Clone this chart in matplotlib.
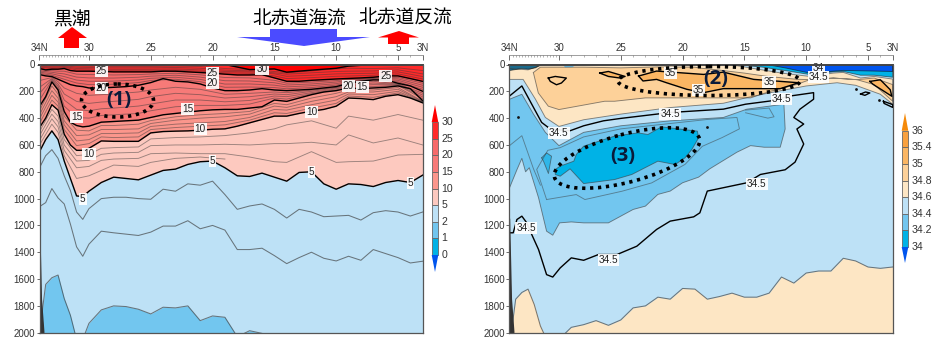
import numpy as np
import matplotlib
matplotlib.use("Agg")
import matplotlib.pyplot as plt
from matplotlib.patches import Polygon, Ellipse, Rectangle

plt.rcParams['font.family'] = ['Liberation Sans', 'DejaVu Sans']
W, H = 933, 337

LAT = [34,33.5,33,32.5,32,31.5,31,30.5,30,29,28,27,26,25,24,23,22,21,20,19,18,17,16,15,14,13,12,11,10,9,8,7,6,5,4,3]
T25 = [30,40,35,35,30,45,50,50,50,52,55,55,55,55,50,50,55,60,65,72,78,78,76,100,125,125,118,113,108,104,100,95,85,85,105,126]
T20 = [75,85,90,110,130,150,160,165,175,175,170,165,155,135,105,125,130,145,175,195,195,190,180,190,195,190,185,175,165,140,125,115,115,140,160,200]
T15 = [313,240,130,190,350,430,455,465,460,430,425,420,415,395,375,365,355,345,338,335,335,325,315,265,275,250,225,205,195,175,180,175,170,160,180,270]
T10 = [470,400,300,340,520,600,640,640,625,570,573,573,573,510,500,497,495,490,483,480,460,435,410,385,385,365,348,335,311,250,254,262,237,225,250,286]
T5  = [650,560,495,560,720,850,980,985,945,880,840,850,860,825,790,780,745,725,720,770,830,835,810,840,870,805,800,890,930,890,895,910,880,865,880,825]
T4  = [770,680,635,700,830,940,1100,1155,1075,1000,990,990,1000,1005,930,945,890,900,870,970,1080,1055,1040,1080,1145,1080,1100,1135,1130,1125,1160,1105,1090,1100,1130,1100]
T3  = [1060,1030,925,995,1040,1190,1360,1430,1340,1243,1255,1265,1275,1250,1205,1205,1165,1225,1200,1235,1380,1380,1370,1425,1485,1440,1400,1445,1465,1430,1460,1380,1410,1440,1480,1467]
T2  = [2000,1640,1590,1570,1745,1870,2050,2050,1930,1830,1800,1805,1825,1860,1810,1815,1800,1910,1875,1885,2030,1985,2005,2030,2030,2030,2030,2030,2030,2030,2030,2030,2030,2030,2030,2030]

TH_LAT = [34,33,32.5,32,31,30,29,28,26,25,23,21,19,17,15,14,12,10,9,7,5,3]
T30 = [0,0,0,0,0,0,0,0,0,0,0,0,0,38,33,57,42,28,12,0,0,0]
T29 = [6,6,4,4,10,12,14,14,14,14,11,15,30,38,52,62,48,32,28,30,25,45]
T28 = [12,12,10,8,20,22,24,25,25,25,22,28,42,47,62,72,62,52,50,48,40,70]
T27 = [18,20,18,15,30,32,34,36,36,36,33,40,52,55,70,88,80,70,68,65,55,90]
T26 = [24,28,26,22,40,42,44,46,46,46,42,50,62,65,85,105,98,88,86,80,70,108]
T24 = [39,46,50,50,72,75,76,78,75,71,65,77,97,100,118,139,131,120,111,99,96,140]
T23 = [48,58,65,70,94,100,101,101,95,87,80,94,121,123,136,153,145,131,118,103,107,155]
T22 = [57,69,80,90,116,125,125,124,115,103,95,111,146,145,154,167,158,143,126,107,118,170]
T21 = [66,80,95,110,138,150,150,147,135,119,110,128,170,168,172,181,172,154,133,111,129,185]
T19 = [120,97,128,175,215,230,225,220,205,190,170,185,222,215,205,210,192,170,146,125,144,214]
T18 = [170,105,145,220,275,290,280,275,260,240,215,225,250,240,220,225,200,175,152,138,148,228]
T17 = [215,112,160,265,335,345,330,325,310,295,265,265,278,268,235,240,210,182,160,150,152,242]
T16 = [265,120,175,310,395,400,380,375,365,345,315,305,305,295,250,258,218,190,168,165,156,256]
T14 = [345,160,220,385,490,495,455,455,445,418,390,375,365,350,290,300,250,215,190,190,172,274]
T13 = [375,195,250,420,530,525,485,485,480,440,415,400,390,370,310,320,275,240,205,205,185,277]
T12 = [405,230,280,450,570,560,515,515,510,462,445,435,425,395,335,340,300,265,220,225,200,280]
T11 = [440,265,310,485,605,590,540,545,540,485,470,460,450,415,360,365,325,290,235,245,212,283]
T9  = [500,335,385,560,680,670,625,620,615,555,545,540,530,510,480,450,420,475,385,415,373,415]
T8  = [530,370,425,600,720,715,670,660,655,605,600,600,595,600,590,590,580,600,525,585,548,600]
T7  = [565,405,465,640,770,760,715,705,700,665,660,665,665,690,725,730,650,730,725,720,675,670]
T6  = [600,445,505,680,850,830,790,750,760,730,700,690,705,np.nan,np.nan,np.nan,np.nan,np.nan,np.nan,np.nan,np.nan,np.nan]

S346_BOT = [2100,1750,1700,1675,1790,1950,2050,2050,2050,1960,1940,1910,1945,1905,1815,1800,1735,1750,1670,1675,1750,1730,1705,1735,1735,1705,1585,1630,1555,1540,1540,1445,1465,1510,1520,1510]

S345_LAT = [34,33,32.2,31.4,30.7,29.1,28,26.4,25,21,16.7,14.9,12.9,11.3,9.4,9.4,10.5,11,10.2,10.75,10.2,10.9,11.7,13.7,14.8,18,18.6,19.1,21,22.1,23.7,25.3,26.8,28,29,29.9,30.5,31,31.65,32.2,32.6,33,33.4,33.7,34]
S345_DEP = [235,160,296,432,481,494,457,420,402,358,333,296,272,235,210,259,333,395,444,481,593,728,785,820,882,944,1106,1136,1168,1230,1355,1417,1417,1460,1442,1517,1585,1567,1380,1268,1181,1131,1156,1255,1255]

S344_LAT = [34,33,32.06,31.1,30,28,25,21,16.7,14.8,11.8,11.7,12.1,13.4,14.5,15.6,17.8,18.7,20,21,22,23,24,26,28,29,29.95,30.5,31,31.65,32.4,32.7,33,33.4,34]
S344_DEP = [259,222,370,506,605,506,457,420,395,333,296,481,617,617,605,654,778,840,882,944,969,1056,1081,1181,1181,1174,1181,1273,1243,994,770,800,700,785,920]
S344B_LAT = [34,33,32.06,31.5]
S344B_DEP = [605,531,778,900]

S343_LAT = [31,31.8,30.9,29.9,28,25,21,18,15.6,15.4,16.8,18.4,19.8,22.5,24.9,27.9,28.6,31]
S343_DEP = [1007,783,640,620,540,480,440,410,395,480,545,610,745,883,945,1007,970,1007]

S342_LAT = [30.3,29.9,28.8,28.6,28,25.5,23.6,22.8,21.7,18.8,18.7,19.25,19.8,20.6,22,24.1,25.5,28,29.1,29.9,30.3]
S342_DEP = [783,758,721,671,609,534,510,522,465,497,547,634,696,746,721,820,858,888,778,833,820]
S342B_LAT = [31.4,31,30.6,30.85,31.25]
S342B_DEP = [696,659,684,813,721]

S346_LAT = [34,32.5,31.3,16.2,12,9.7,7.8,7,5.6,4.5,3,3,4,6,7.5,10,12.9,14.8,16.7,21,25,28,30,31.1,31.9,32.9,34]
S346_DEP = [30,40,0,0,64,89,64,59,101,89,109,296,222,155,136,160,210,247,289,321,370,412,462,395,259,111,111]

S348_LAT = [32.07,31.5,28,25,22,19,18.6,17.2,15,13.2,10.8,9.7,7.8,5.9,4.5,3,3,4.5,5.9,7.8,9.7,10.8,12.9,14.5,18.6,23,25.5,26.3,30,30.86,31.67]
S348_DEP = [60,20,20,25,18,20,27,40,64,88,110,113,101,113,101,150,274,150,113,101,113,150,200,249,249,249,274,274,336,311,212]

S35A_LAT = [23.56,22.1,18.3,16.7,14.25,10.6,12.1,16.7,18.3,19.65,21.3,22.1,23.2]
S35A_DEP = [86,49,74,57,111,136,180,180,210,185,136,111,123]
S35B_LAT = [30.86,30.3,29.4,29.8,30.2,30.7]
S35B_DEP = [101,89,101,138,151,126]
S35C_LAT = [26.7,26,24.65,25.05,26]
S35C_DEP = [64,52,89,101,89]
S35D_LAT = [4.85,4,3.2,3.07,3.9,4.56]
S35D_DEP = [126,114,188,237,188,150]
S345E_LAT = [5.6,5.2,4.85,5.25]
S345E_DEP = [220,205,212,230]
S345F_LAT = [3.75,3,3,3.7]
S345F_DEP = [274,299,320,290]
SPOT_LAT = [33.3,18,6,4.1]
SPOT_DEP = [388,464,183,262]
S343C_LAT = [14.9,13,12.6,13.1,14.9]
S343C_DEP = [340,325,390,400,360]

FRESH_LAT = [15.8,13.5,11.5,9.7,7.8,7,5.6,4.5,3,3]
FRESH_DEP = [0,20,48,75,55,52,80,80,95,0]
VFRESH_LAT = [13.2,3,3,7,9.7,11.6]
VFRESH_DEP = [0,0,52,44,64,27]
WNW_LAT = [34,31.4,31.9,32.5,33,34]
WNW_DEP = [0,0,25,35,30,45]
PATCH_LAT = [29.7,28.6,28.9,29.5]
PATCH_DEP = [0,0,20,22]

T_LEVELS = ['0','1','2','5','10','15','20','25','30']
T_COLORS = ['#00B2E6','#72C6EF','#BDE1F6','#FDC9BF','#FB968C','#F77A78','#F66A6A','#FF2A2A']
S_LEVELS = ['34','34.2','34.4','34.6','34.8','35','35.4','36']
S_COLORS = ['#00B2E6','#72C6EF','#BDE1F6','#FDE6C4','#FDD199','#FBB663','#F9A13F']
XTICKS = [34,30,25,20,15,10,5,3]
XLABELS = ['34N','30','25','20','15','10','5','3N']
YTICKS = list(range(0,2001,200))

T_LABELS = [('25',29,47),('25',20,60),('30',16,30),('25',6,84),('20',29,178),('20',20,140),('20',9,158),('15',7.9,170),
            ('15',31,388),('15',22,330),('10',12,355),('10',21,480),('10',30,670),('5',20,720),('5',12,800),('5',4,880),('5',30.5,1000)]
S_LABELS = [('34',9,28),('34.5',30,513),('34.5',21,368),('34.5',12,254),('34.5',9,92),('34.5',14,892),('34.5',32.65,1218),
            ('34.5',26,1460),('35',21,62),('35',13,131),('35',18.7,192)]

fig = plt.figure(figsize=(W/100, H/100), dpi=100)
TXT = '#333333'

def make_axes(x0):
    ax = fig.add_axes([x0/W, (H-332.7)/H, 383.2/W, 268.2/H])
    ax.set_xlim(34, 3); ax.set_ylim(2000, 0)
    ax.xaxis.tick_top()
    ax.set_xticks(XTICKS); ax.set_xticklabels(XLABELS)
    minor = list(np.arange(30, 34, 0.25)) + [v for v in range(4, 30) if v % 5]
    ax.set_xticks(minor, minor=True)
    ax.set_yticks(YTICKS)
    ax.tick_params(axis='x', which='major', direction='in', length=3.5, width=0.5, labelsize=7, colors=TXT, pad=1.5)
    ax.tick_params(axis='x', which='minor', direction='in', length=1.5, width=0.4, colors='#777777')
    ax.tick_params(axis='y', direction='out', length=2, width=0.5, labelsize=7, colors=TXT, pad=1.5)
    for s in ('left', 'right', 'bottom'):
        ax.spines[s].set_color('#555555'); ax.spines[s].set_linewidth(0.9); ax.spines[s].set_zorder(20)
    ax.spines['top'].set_position(('outward', 6.5))
    ax.spines['top'].set_color('#777777'); ax.spines['top'].set_linewidth(0.5)
    ax.plot([34, 3], [0, 0], color='#444444', lw=1.4, clip_on=False, zorder=20)
    return ax

def thin(ax, x, y, c='#3a3a3a', a=0.5, lw=0.65):
    ax.plot(x, y, color=c, alpha=a, lw=lw, zorder=6, solid_joinstyle='round')

def bold(ax, x, y, lw=1.0):
    ax.plot(x, y, color='black', lw=lw, zorder=7, solid_joinstyle='round')

def shape(ax, x, y, color, line=None, lw=0.65):
    ax.fill(x, y, facecolor=color, edgecolor='none', zorder=4)
    if line:
        xs, ys = list(x) + [x[0]], list(y) + [y[0]]
        ax.plot(xs, ys, color=line, lw=lw, alpha=0.6 if lw < 1 else 1, zorder=6)

def labels(ax, items):
    for s, la, de in items:
        ax.text(la, de, s, fontsize=7.2, color='#222222', ha='center', va='center', zorder=12,
                bbox=dict(facecolor='white', edgecolor='none', pad=0.7, alpha=0.92))

def wedge(ax):
    ax.fill([34, 34, 33.65, 33.85], [1150, 2000, 2000, 1750], color='#333333', zorder=8)

# ---------- temperature ----------
a1 = make_axes(39.5)
a1.set_facecolor('#FF0000')
a1.fill_between(TH_LAT, T30, 2100, color=T_COLORS[7], lw=0, zorder=1)
for arr, col in ((T25, T_COLORS[6]), (T20, T_COLORS[5]), (T15, T_COLORS[4]), (T10, T_COLORS[3]), (T5, T_COLORS[2]), (T2, T_COLORS[1])):
    a1.fill_between(LAT, arr, 2100, color=col, lw=0, zorder=2)
for arr in (T29, T28, T27, T26, T24, T23, T22, T21, T19, T18, T17, T16, T14, T13, T12, T11, T9, T8, T7, T6):
    thin(a1, TH_LAT, arr)
for arr in (T4, T3, T2):
    thin(a1, LAT, arr, a=0.65, lw=0.75)
for arr in (T25, T20, T15, T10, T5):
    bold(a1, LAT, arr)
bold(a1, TH_LAT[12:20], T30[12:20])
wedge(a1)
labels(a1, T_LABELS)

# ---------- salinity ----------
a2 = make_axes(509.5)
a2.set_facecolor(S_COLORS[2])
a2.fill_between(LAT, S346_BOT, 2100, color=S_COLORS[3], lw=0, zorder=2)
thin(a2, LAT, S346_BOT, a=0.65, lw=0.75)
shape(a2, S344_LAT, S344_DEP, S_COLORS[1], line='#3a3a3a')
thin(a2, S344B_LAT, S344B_DEP)
thin(a2, S343_LAT, S343_DEP)
thin(a2, S343C_LAT, S343C_DEP)
shape(a2, S342_LAT, S342_DEP, S_COLORS[0], line='#3a3a3a')
shape(a2, S342B_LAT, S342B_DEP, '#2FB6E8', line='#3a3a3a')
shape(a2, S346_LAT, S346_DEP, S_COLORS[3], line='#3a3a3a')
shape(a2, S348_LAT, S348_DEP, S_COLORS[4], line='#3a3a3a')
shape(a2, S35A_LAT, S35A_DEP, S_COLORS[5], line='black', lw=1.0)
shape(a2, S35B_LAT, S35B_DEP, S_COLORS[4], line='black', lw=1.0)
shape(a2, S35C_LAT, S35C_DEP, S_COLORS[5], line='black', lw=1.0)
shape(a2, S35D_LAT, S35D_DEP, S_COLORS[5], line='black', lw=1.0)
shape(a2, FRESH_LAT, FRESH_DEP, S_COLORS[0], line='#222222')
shape(a2, VFRESH_LAT, VFRESH_DEP, '#0055EE', line='#111111')
shape(a2, WNW_LAT, WNW_DEP, '#1A6A8C', line='#111111')
shape(a2, PATCH_LAT, PATCH_DEP, S_COLORS[1])
shape(a2, S345E_LAT, S345E_DEP, S_COLORS[2], line='black', lw=1.0)
shape(a2, S345F_LAT, S345F_DEP, S_COLORS[2], line='black', lw=1.0)
a2.scatter(SPOT_LAT, SPOT_DEP, s=4, color='#111111', zorder=7, lw=0)
bold(a2, S345_LAT, S345_DEP)
wedge(a2)
labels(a2, S_LABELS)

# ---------- overlay in pixel coordinates ----------
ov = fig.add_axes([0, 0, 1, 1], zorder=30)
ov.set_xlim(0, W); ov.set_ylim(H, 0); ov.axis('off'); ov.patch.set_alpha(0)

def colorbar(x0, y0, levels, colors, tip_top, tip_bot, top_col, bot_col):
    dy, w = 16.6, 6.6
    for i, c in enumerate(colors):
        ov.add_patch(Rectangle((x0, y0 - (i + 1) * dy), w, dy, facecolor=c, edgecolor='#666666', lw=0.6))
    for i, s in enumerate(levels):
        ov.text(x0 + w + 3.4, y0 - i * dy, s, fontsize=7.6, color=TXT, ha='left', va='center')
    top = y0 - len(colors) * dy
    ov.add_patch(Polygon([(x0, top), (x0 + w, top), (x0 + w / 2, tip_top)], facecolor=top_col, edgecolor='none'))
    ov.add_patch(Polygon([(x0, y0), (x0 + w, y0), (x0 + w / 2, tip_bot)], facecolor=bot_col, edgecolor='none'))

colorbar(431.7, 255, T_LEVELS, T_COLORS, 105, 272, '#FF0000', '#0055EE')
colorbar(901.7, 247, S_LEVELS, S_COLORS, 113, 263, '#F58A0A', '#0055EE')

cjk = ['Noto Sans CJK JP', 'DejaVu Sans']
ov.text(72, 20, '黒潮', fontsize=13.5, family=cjk, ha='center', va='center', color='black')
ov.text(299, 18, '北赤道海流', fontsize=13.5, family=cjk, ha='center', va='center', color='black')
ov.text(405.5, 18, '北赤道反流', fontsize=13.5, family=cjk, ha='center', va='center', color='black')

ov.add_patch(Polygon([(72, 27), (87, 38), (79, 38), (79, 48), (64, 48), (64, 38), (58, 38)], color='#FF0000', lw=0))
ov.add_patch(Polygon([(270, 29), (337, 29), (337, 37), (370, 37), (304, 46), (237, 37), (270, 37)], color='#4B4BFF', lw=0))
ov.add_patch(Polygon([(399, 31), (419, 37.5), (409, 37.5), (409, 44), (388, 44), (388, 37.5), (378, 37.5)], color='#FF0000', lw=0))

dots = (0, (0.9, 1.3))
for xy, w, h, ang in (((117.5, 100.5), 72, 33, 0), ((709, 81), 182, 29, 0), ((627, 158), 150, 48, -15)):
    ov.add_patch(Ellipse(xy, w, h, angle=ang, fill=False, edgecolor='black', lw=2.6, linestyle=dots))
for s, x, y in (('(1)', 119, 100), ('(2)', 716, 79), ('(3)', 623, 156)):
    ov.text(x, y, s, fontsize=14.5, fontweight='bold', color='#0A1A3A', family=['Open Sans', 'DejaVu Sans'], ha='center', va='center')

fig.savefig('out.png', dpi=100)
